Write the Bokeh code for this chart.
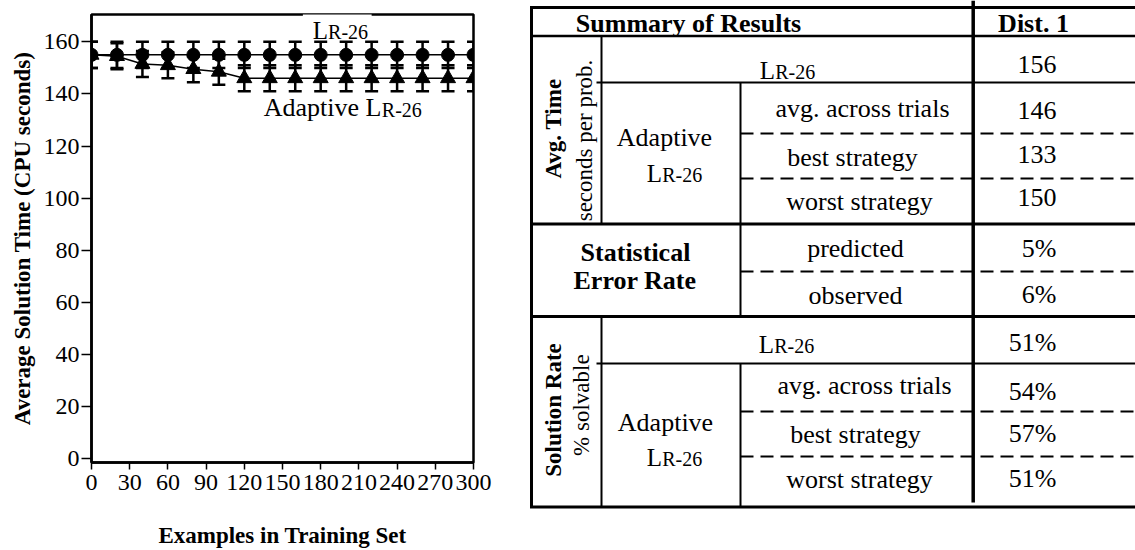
import numpy as np
from math import pi
from bokeh.plotting import figure
from bokeh.models import (ColumnDataSource, Range1d, FixedTicker, Whisker, TeeHead,
                          Label, BoxAnnotation)
from bokeh.layouts import row
from bokeh.embed import file_html
from bokeh.resources import INLINE
from bokeh.core.properties import value

FONT = "Liberation Serif"

# ---------------- data ----------------
examples = [0, 20, 40, 60, 80, 100, 120, 140, 160, 180, 200, 220, 240, 260, 280, 300]
lr26_time = [155, 155, 155, 155, 155, 155, 155, 155, 155, 155, 155, 155, 155, 155, 155, 155]
adaptive_time = [155, 154.5, 151.5, 151, 149.5, 148.5, 146, 146, 146, 146, 146, 146, 146, 146, 146, 146]
lr26_err = [5, 5, 5, 5, 5, 5, 5, 5, 5, 5, 5, 5, 5, 5, 5, 5]
adaptive_err = [5, 5, 5, 5, 5, 5, 5, 5, 5, 5, 5, 5, 5, 5, 5, 5]
x_ticks = [0, 30, 60, 90, 120, 150, 180, 210, 240, 270, 300]
y_ticks = [0, 20, 40, 60, 80, 100, 120, 140, 160]

table_title = "Summary of Results"
column_title = "Dist. 1"
time_title = ["Avg. Time", "seconds per prob."]
error_title = ["Statistical", "Error Rate"]
solution_title = ["Solution Rate", "% solvable"]
strategy_labels = ["avg. across trials", "best strategy", "worst strategy"]
error_labels = ["predicted", "observed"]
time_values = ["156", "146", "133", "150"]
error_values = ["5%", "6%"]
solution_values = ["51%", "54%", "57%", "51%"]

W_TOTAL, H_TOTAL = 1135, 550
W_CHART = 510

# ---------------- chart ----------------
p = figure(width=W_CHART, height=H_TOTAL, x_range=Range1d(0, 300), y_range=Range1d(-1.5, 170.5),
           output_backend="svg", toolbar_location=None,
           min_border_left=91, min_border_right=37, min_border_top=14, min_border_bottom=87)
p.frame_align = False
p.background_fill_color = "white"
p.border_fill_color = "white"
p.outline_line_color = "black"
p.outline_line_width = 2.5
p.xgrid.grid_line_color = None
p.ygrid.grid_line_color = None

for ax in (p.xaxis[0], p.yaxis[0]):
    ax.axis_line_width = 2.5
    ax.axis_line_color = "black"
    ax.major_tick_line_color = "black"
    ax.major_tick_line_width = 1.5
    ax.major_tick_in = 0
    ax.minor_tick_line_color = None
    ax.major_label_text_font = FONT
    ax.major_label_text_font_size = "24px"
    ax.major_label_text_color = "black"
    ax.axis_label_text_font = FONT
    ax.axis_label_text_font_style = "bold"
    ax.axis_label_text_font_size = "23px"
    ax.axis_label_text_color = "black"

p.xaxis.ticker = FixedTicker(ticks=x_ticks)
p.yaxis.ticker = FixedTicker(ticks=y_ticks)
p.xaxis.major_tick_out = 7
p.yaxis.major_tick_out = 10
p.xaxis.major_label_standoff = 5
p.yaxis.major_label_standoff = 2
p.xaxis.axis_label = "Examples in Training Set"
p.yaxis.axis_label = "Average Solution Time (CPU seconds)"
p.xaxis.axis_label_standoff = 30
p.yaxis.axis_label_standoff = 6

ex = np.array(examples, dtype=float)
t1 = np.array(lr26_time, dtype=float)
t2 = np.array(adaptive_time, dtype=float)
e1 = np.array(lr26_err, dtype=float)
e2 = np.array(adaptive_err, dtype=float)
src = ColumnDataSource(dict(x=ex, y1=t1, lo1=t1 - e1, hi1=t1 + e1,
                            y2=t2, lo2=t2 - e2, hi2=t2 + e2))

for lo, hi in (("lo1", "hi1"), ("lo2", "hi2")):
    w = Whisker(source=src, base="x", lower=lo, upper=hi, line_color="black", line_width=2.5,
                upper_head=TeeHead(size=13, line_width=2.5, line_color="black"),
                lower_head=TeeHead(size=13, line_width=2.5, line_color="black"))
    p.add_layout(w)

p.line("x", "y1", source=src, line_color="black", line_width=1.5)
p.line("x", "y2", source=src, line_color="black", line_width=1.5)
p.scatter("x", "y1", source=src, marker="circle", size=13, color="black")
p.scatter("x", "y2", source=src, marker="triangle", size=15, color="black")

# white gap in the top frame line behind the label
p.add_layout(BoxAnnotation(left=166, right=220, bottom=169.2, top=172.5,
                           fill_color="white", fill_alpha=1.0, line_color=None,
                           level="overlay"))

def chart_label(txt, x, y, size):
    p.add_layout(Label(x=x, y=y, text=txt, text_font=FONT, text_font_size=size,
                       text_color="black", text_align="left", text_baseline="middle",
                       level="overlay"))

chart_label("L", 173.8, 164.4, "25px")
chart_label("R-26", 185.8, 163.8, "20px")
chart_label("Adaptive L", 135.2, 134.8, "26px")
chart_label("R-26", 228.0, 134.0, "20px")

# ---------------- table (drawn in page pixel coordinates) ----------------
X0, X1 = W_CHART, W_TOTAL
t = figure(width=X1 - X0, height=H_TOTAL, x_range=Range1d(X0, X1), y_range=Range1d(H_TOTAL, 0),
           output_backend="svg", toolbar_location=None, x_axis_type=None, y_axis_type=None,
           min_border=0)
t.frame_align = False
t.outline_line_color = None
t.xgrid.grid_line_color = None
t.ygrid.grid_line_color = None

L, C1, C2, CV, R = 531, 601, 740, 972.7, X1
TOP, HDR, S1, S2, BOT = 7, 35.5, 223.5, 316, 506.5
R1, D1, D2 = 82, 133, 178
DE = 271
R2, D3, D4 = 363, 411, 456

def seg(x0, y0, x1, y1, width, dash="solid"):
    t.segment(x0=[x0], y0=[y0], x1=[x1], y1=[y1], line_color="black",
              line_width=width, line_dash=dash)

# horizontal rules
seg(L - 1.5, TOP, R, TOP, 3)
seg(L, HDR, R, HDR, 2.5)
seg(L, S1, R, S1, 3)
seg(L, S2, R, S2, 3)
seg(L - 1.5, BOT, R, BOT, 3)
seg(C1 - 5, R1, R, R1, 2)
seg(C1 - 5, R2, R, R2, 2)
for yy in (D1, D2, DE, D3, D4):
    seg(C2, yy, R, yy, 2, "13 7")
# vertical rules
seg(L, TOP, L, BOT, 3)
seg(C1, HDR, C1, S1, 2)
seg(C1, S2, C1, BOT, 2)
seg(C2, R1, C2, S2, 2)
seg(C2, R2, C2, BOT, 2)
seg(CV, 0, CV, 502, 3.5)

def txt(s, x, y, size="26px", style="normal", align="center", angle=0.0):
    t.text(x=[x], y=[y], text=[s], text_font=value(FONT), text_font_size=size,
           text_font_style=style, text_align=align, text_baseline="middle",
           text_color="black", angle=angle)

def lr26(cx, cy):
    big, small = 25, 20
    wl = 0.611 * big
    total = wl + 2.0 * small
    x0 = cx - total / 2 + wl
    t.text(x=[x0], y=[cy], text=["L"], text_font=value(FONT), text_font_size=f"{big}px",
           text_align="right", text_baseline="middle", text_color="black")
    t.text(x=[x0], y=[cy + 1.6], text=["R-26"], text_font=value(FONT), text_font_size=f"{small}px",
           text_align="left", text_baseline="middle", text_color="black")

VX = 1056
# header
txt(table_title, 688, 23, style="bold")
txt(column_title, 1033, 23, style="bold")

# avg time section
txt(time_title[0], 553, 128, size="23px", style="bold", angle=pi / 2)
txt(time_title[1], 584, 140, size="23px", angle=pi / 2)
lr26(787, 70)
txt("Adaptive", 664, 137)
lr26(674, 173)
time_label_y = [108, 157, 201]
time_label_x = [862, 852, 859]
for s, xx, yy in zip(strategy_labels, time_label_x, time_label_y):
    txt(s, xx, yy)
time_value_y = [64, 110, 154, 197]
for s, yy in zip(time_values, time_value_y):
    txt(s, VX, yy, align="right")

# statistical error section
txt(error_title[0], 635, 252, style="bold")
txt(error_title[1], 634.5, 280, style="bold")
error_label_y = [248, 295]
for s, yy in zip(error_labels, error_label_y):
    txt(s, 855, yy)
error_value_y = [248, 293.5]
for s, yy in zip(error_values, error_value_y):
    txt(s, VX, yy, align="right")

# solution rate section
txt(solution_title[0], 553, 409.5, size="23px", style="bold", angle=pi / 2)
txt(solution_title[1], 581, 404.6, size="23px", angle=pi / 2)
lr26(786, 344)
txt("Adaptive", 665, 422)
lr26(674, 457)
sol_label_y = [385, 434, 479]
sol_label_x = [864, 855, 859]
for s, xx, yy in zip(strategy_labels, sol_label_x, sol_label_y):
    txt(s, xx, yy)
sol_value_y = [341.7, 390.7, 433, 478]
for s, yy in zip(solution_values, sol_value_y):
    txt(s, VX, yy, align="right")

layout = row(p, t)
open("out.html", "w").write(file_html(layout, INLINE))
